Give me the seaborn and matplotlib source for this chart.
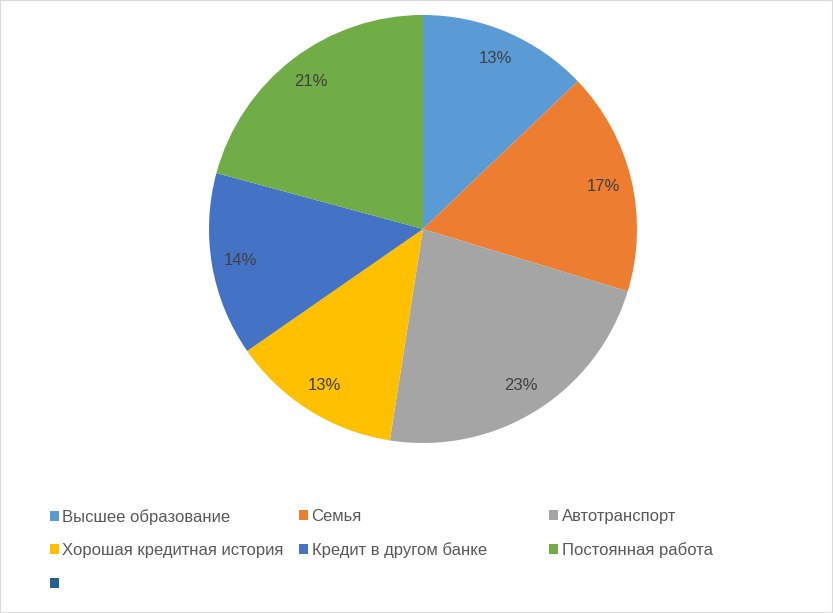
import matplotlib
matplotlib.use("Agg")
import matplotlib.pyplot as plt
import seaborn as sns
from matplotlib.patches import Patch, Rectangle

categories = ["Высшее образование", "Семья", "Автотранспорт",
              "Хорошая кредитная история", "Кредит в другом банке",
              "Постоянная работа", ""]
values = [13, 17, 23, 13, 14, 21, 0]
colors = ["#5B9BD5", "#ED7D31", "#A5A5A5", "#FFC000", "#4472C4", "#70AD47", "#255E91"]


def main():
    sns.set_theme(style="white")
    plt.rcParams['font.family'] = ['Liberation Sans', 'DejaVu Sans']

    W, H = 833, 613
    fig = plt.figure(figsize=(W / 100, H / 100), dpi=100)
    cx, cy, r = 423, 229, 214
    ax = fig.add_axes([(cx - r) / W, (H - cy - r) / H, 2 * r / W, 2 * r / H])

    # only non-zero slices go into the pie
    vals = [v for v in values if v > 0]
    cols = colors[:len(vals)]
    wedges, texts, autotexts = ax.pie(
        vals, colors=cols, startangle=90, counterclock=False,
        autopct=lambda p: f"{p:.0f}%", pctdistance=0.865,
        wedgeprops=dict(linewidth=0),
        textprops=dict(color="#404040", fontsize=12))
    ax.set_xlim(-1, 1)
    ax.set_ylim(-1, 1)
    ax.set_aspect("equal")
    ax.axis("off")

    # legend laid out in three fixed columns like the original
    handles = [Patch(facecolor=c, edgecolor="none") for c in colors]
    columns = [[0, 3, 6], [1, 4], [2, 5]]
    col_x = [50, 299, 549]
    for xs, idx in zip(col_x, columns):
        leg = fig.legend([handles[i] for i in idx], [categories[i] for i in idx],
                         loc="upper left", bbox_to_anchor=(xs / W, 1 - 509 / H),
                         frameon=False, fontsize=12, handlelength=0.55,
                         handleheight=0.55, handletextpad=0.2, labelspacing=1.1,
                         borderaxespad=0, borderpad=0)
        for t in leg.get_texts():
            t.set_color("#595959")

    fig.patches.append(Rectangle((0, 0), 1, 1, transform=fig.transFigure,
                                 fill=False, edgecolor="#D9D9D9", linewidth=1.5))
    fig.savefig("out.png", dpi=100)


if __name__ == "__main__":
    main()
